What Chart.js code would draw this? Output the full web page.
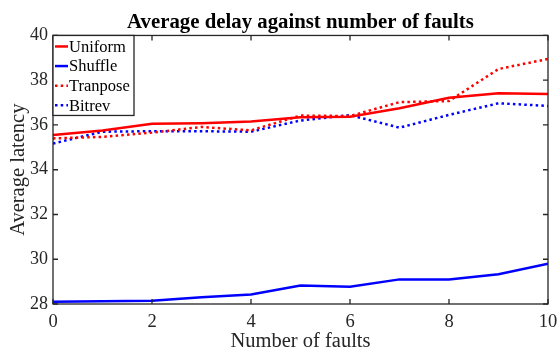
<!DOCTYPE html>
<html><head><meta charset="utf-8">
<script src="https://cdn.jsdelivr.net/npm/chart.js@4/dist/chart.umd.min.js"></script>
<style>html,body{margin:0;padding:0;background:#fff}</style>
</head><body>
<canvas id="c" width="559" height="351"></canvas>
<script>
const faults = [0,1,2,3,4,5,6,7,8,9,10];
const uniform = [35.55,35.75,36.05,36.08,36.15,36.35,36.37,36.75,37.22,37.42,37.38];
const shuffle = [28.1,28.12,28.15,28.3,28.42,28.83,28.77,29.1,29.1,29.33,29.8];
const tranpose = [35.4,35.47,35.66,35.91,35.76,36.42,36.4,37.02,37.07,38.5,38.95];
const bitrev = [35.17,35.7,35.72,35.72,35.7,36.2,36.44,35.88,36.45,36.97,36.85];
const seriesNames = ['Uniform','Shuffle','Tranpose','Bitrev'];
const xTicks = [0,2,4,6,8,10];
const yTicks = [28,30,32,34,36,38,40];

const AX = '#262626';
const pts = arr => faults.map((f,i)=>({x:f,y:arr[i]}));
const mk = (label, arr, color, dashed) => ({
  label, data: pts(arr), borderColor: color, backgroundColor: color,
  borderWidth: 2.5, borderDash: dashed ? [2.5,3.2] : [], pointRadius: 0,
  tension: 0, fill: false
});

const boxPlugin = {
  id: 'box',
  afterDraw(chart) {
    const {ctx, chartArea: a, scales: {x, y}} = chart;
    ctx.save();
    ctx.strokeStyle = AX; ctx.lineWidth = 1.3;
    ctx.strokeRect(a.left, a.top, a.right - a.left, a.bottom - a.top);
    const L = 5;
    ctx.beginPath();
    xTicks.forEach(v => { const px = x.getPixelForValue(v);
      ctx.moveTo(px, a.bottom); ctx.lineTo(px, a.bottom - L);
      ctx.moveTo(px, a.top); ctx.lineTo(px, a.top + L); });
    yTicks.forEach(v => { const py = y.getPixelForValue(v);
      ctx.moveTo(a.left, py); ctx.lineTo(a.left + L, py);
      ctx.moveTo(a.right, py); ctx.lineTo(a.right - L, py); });
    ctx.stroke();
    // legend
    const bx = a.left, by = a.top, bw = 81, bh = 80;
    ctx.fillStyle = '#fff';
    ctx.fillRect(bx, by, bw, bh);
    ctx.lineWidth = 1.3; ctx.strokeStyle = AX;
    ctx.strokeRect(bx, by, bw, bh);
    ctx.font = '16.5px "Liberation Serif"';
    ctx.textBaseline = 'middle'; ctx.textAlign = 'left';
    chart.data.datasets.forEach((ds, i) => {
      const cy = by + 11 + i * 19.6;
      ctx.strokeStyle = ds.borderColor; ctx.lineWidth = 2.5;
      ctx.setLineDash(ds.borderDash);
      ctx.beginPath(); ctx.moveTo(bx + 2, cy); ctx.lineTo(bx + 15, cy); ctx.stroke();
      ctx.setLineDash([]);
      ctx.fillStyle = '#000';
      ctx.fillText(ds.label, bx + 16, cy + 1);
    });
    ctx.restore();
  }
};

new Chart(document.getElementById('c'), {
  type: 'line',
  data: { datasets: [
    mk(seriesNames[0], uniform, '#ff0000', false),
    mk(seriesNames[1], shuffle, '#0000ff', false),
    mk(seriesNames[2], tranpose, '#ff0000', true),
    mk(seriesNames[3], bitrev, '#0000ff', true)
  ]},
  options: {
    responsive: false, animation: false, devicePixelRatio: 1,
    layout: { padding: { left: 0, right: 11, top: 0, bottom: 0 } },
    plugins: {
      legend: { display: false },
      tooltip: { enabled: false },
      title: { display: true, fullSize: false, text: 'Average delay against number of faults',
        color: '#000', font: { family: 'Liberation Serif', size: 20.8, weight: 'bold', lineHeight: 1.2 },
        padding: { top: 10.5, bottom: 0 } }
    },
    scales: {
      x: { type: 'linear', min: 0, max: 10,
        afterFit(s) { s.height = 47; s.paddingLeft = 0; s.paddingRight = 0; },
        afterBuildTicks(s) { s.ticks = xTicks.map(v => ({value: v})); },
        grid: { display: true, drawOnChartArea: false, drawTicks: false },
        border: { display: false },
        ticks: { color: AX, padding: 7, font: { family: 'Liberation Serif', size: 18.5 } },
        title: { display: true, text: 'Number of faults', color: AX,
          font: { family: 'Liberation Serif', size: 20.5, lineHeight: 1.0 }, padding: { top: 0, bottom: -1 } }
      },
      y: { type: 'linear', min: 28, max: 40,
        afterFit(s) { s.width = 53; s.paddingTop = 0; s.paddingBottom = 0; },
        afterBuildTicks(s) { s.ticks = yTicks.map(v => ({value: v})); },
        grid: { display: true, drawOnChartArea: false, drawTicks: false },
        border: { display: false },
        ticks: { color: AX, padding: 5, font: { family: 'Liberation Serif', size: 18 } },
        title: { display: true, text: 'Average latency', color: AX,
          font: { family: 'Liberation Serif', size: 20.5, lineHeight: 1.2 }, padding: { top: 6, bottom: 0 } }
      }
    }
  },
  plugins: [boxPlugin]
});
</script>
</body></html>
